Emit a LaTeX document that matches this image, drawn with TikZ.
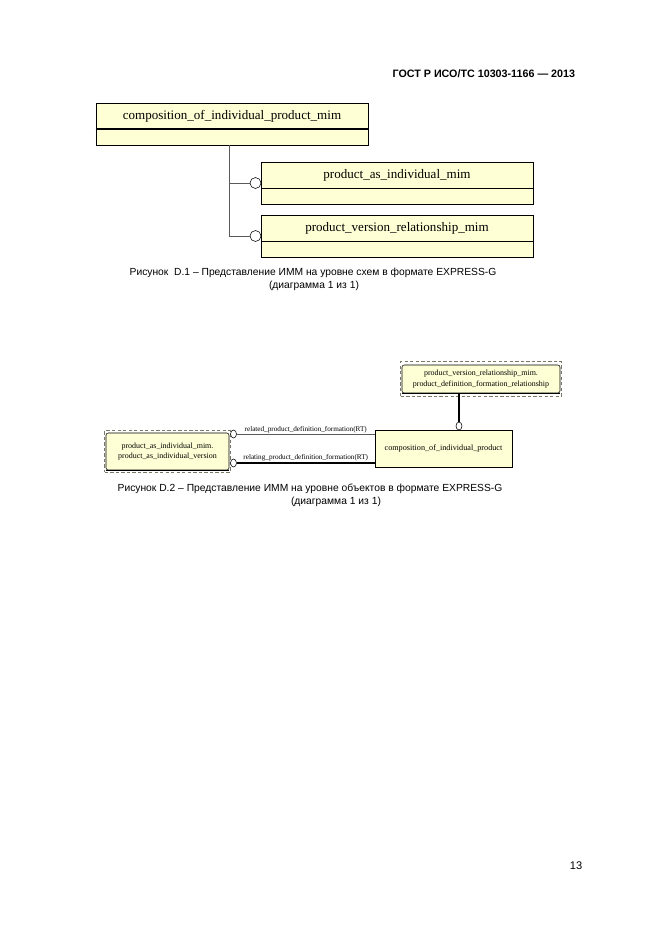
\documentclass[tikz,border=0pt]{standalone}
\usepackage{fontspec}
\setmainfont{Liberation Serif}
\setsansfont{Liberation Sans}
\usepackage{xcolor}
\definecolor{entityfill}{RGB}{255,255,214}
\definecolor{framegray}{RGB}{120,120,100}
\definecolor{linkgray}{RGB}{90,90,90}
\usepackage{tikz}
\usetikzlibrary{shapes.geometric,positioning,fit}
\newlength\pxunit
\setlength\pxunit{0.3177mm}

\begin{document}
\begin{tikzpicture}[x=0.3177mm, y=-0.3177mm,
    entity/.style={rectangle, draw, fill=entityfill, line width=0.6pt, inner sep=0pt, font=\fontsize{11.8}{13}\selectfont},
    attrbox/.style={rectangle, draw, fill=entityfill, line width=0.6pt, inner sep=0pt, minimum height=16\pxunit},
    ring/.style={circle, draw, fill=white, line width=0.5pt, inner sep=0pt, minimum size=11\pxunit},
    smallring/.style={ellipse, draw, fill=white, line width=0.5pt, inner sep=0pt, minimum width=6\pxunit, minimum height=8\pxunit},
    objbox/.style={rectangle, draw, fill=entityfill, line width=0.5pt, inner sep=0pt, align=center, font=\fontsize{7.2}{9.5}\selectfont},
    refbox/.style={objbox, rounded corners=2pt},
    refframe/.style={rectangle, draw=framegray, densely dashed, line width=0.5pt, inner xsep=1\pxunit, inner ysep=3\pxunit},
    rolelabel/.style={font=\fontsize{6.5}{7}\selectfont, inner sep=1pt, text=black}]
    \useasboundingbox (0,0) rectangle (661,936);

    % Header
    \node[anchor=east, font=\sffamily\bfseries\fontsize{9.7}{11}\selectfont] (header) at (579,74) {ГОСТ Р ИСО/ТС 10303-1166 — 2013};

    % Schema level diagram
    \node[entity, minimum width=272\pxunit, minimum height=26\pxunit] (comp) at (232,116) {composition\_of\_individual\_product\_mim};
    \node[attrbox, minimum width=272\pxunit, below=0pt of comp] (compattr) {};
    \draw[line width=1.6pt] (comp.south west) -- (comp.south east);
    \node[entity, minimum width=272\pxunit, minimum height=26\pxunit] (asind) at (397,175) {product\_as\_individual\_mim};
    \node[attrbox, minimum width=272\pxunit, below=0pt of asind] (asindattr) {};
    \node[entity, minimum width=272\pxunit, minimum height=26\pxunit] (verrel) at (397,228) {product\_version\_relationship\_mim};
    \node[attrbox, minimum width=272\pxunit, below=0pt of verrel] (verrelattr) {};

    \node[ring] (asindring) at (255.5,183) {};
    \node[ring] (verrelring) at (255.5,236) {};
    \coordinate (trunk) at (229,145);
    \draw[linkgray, line width=0.6pt] (trunk) |- (asindring.west);
    \draw[linkgray, line width=0.6pt] (trunk) |- (verrelring.west);

    \node[font=\sffamily\fontsize{9.3}{11}\selectfont] (cap1a) at (313,273) {Рисунок\ \ D.1 – Представление ИММ на уровне схем в формате EXPRESS-G};
    \node[font=\sffamily\fontsize{9.3}{11}\selectfont] (cap1b) at (314,286) {(диаграмма 1 из 1)};

    % Object level diagram
    \node[refbox, minimum width=158\pxunit, minimum height=28\pxunit] (pvr) at (481,379) {product\_version\_relationship\_mim.\\product\_definition\_formation\_relationship};
    \node[refframe, fit=(pvr)] (pvrframe) {};
    \draw[line width=1.2pt] (pvr.south west) -- (pvr.south east);

    \node[objbox, minimum width=137\pxunit, minimum height=37\pxunit, font=\fontsize{7.4}{9}\selectfont] (coip) at (443.5,448.5) {composition\_of\_individual\_product};
    \node[smallring] (coipring) at (459,426) {};
    \draw[line width=1.8pt] (pvr.south -| coipring.north) -- (coipring.north);

    \node[refbox, minimum width=123\pxunit, minimum height=37\pxunit] (pai) at (167.5,451.5) {product\_as\_individual\_mim.\\product\_as\_individual\_version};
    \node[refframe, fit=(pai), inner ysep=2\pxunit] (paiframe) {};
    \draw[line width=1.2pt] (pai.south west) -- (pai.south east);

    \node[smallring] (pairing1) at (233.5,434) {};
    \node[smallring] (pairing2) at (233.5,463) {};
    \draw[linkgray, line width=0.5pt] (pairing1.east) -- node[rolelabel, above] {related\_product\_definition\_formation(RT)} (pairing1.east -| coip.west);
    \draw[line width=1.2pt] (pairing2.east) -- node[rolelabel, above] {relating\_product\_definition\_formation(RT)} (pairing2.east -| coip.west);

    \node[font=\sffamily\fontsize{9.3}{11}\selectfont] (cap2a) at (310,489) {Рисунок D.2 – Представление ИММ на уровне объектов в формате EXPRESS-G};
    \node[font=\sffamily\fontsize{9.3}{11}\selectfont] (cap2b) at (336,502) {(диаграмма 1 из 1)};

    % Page number
    \node[font=\sffamily\fontsize{10}{12}\selectfont] (pagenum) at (576,866) {13};
\end{tikzpicture}
\end{document}
